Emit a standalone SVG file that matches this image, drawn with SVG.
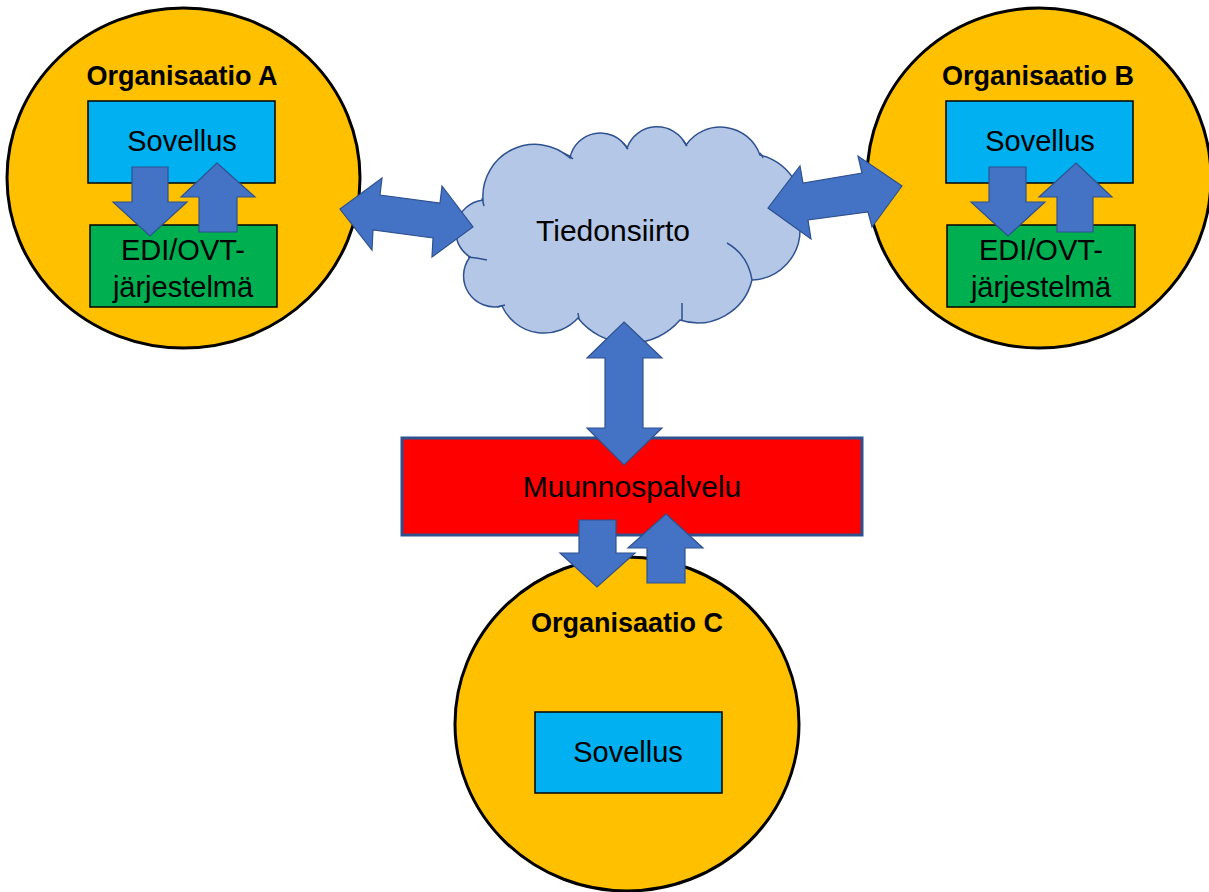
<svg xmlns="http://www.w3.org/2000/svg" width="1209" height="892" viewBox="0 0 1209 892">
<style>
.org{fill:#FFC000;stroke:#000;stroke-width:3}
.app{fill:#00B0F0;stroke:#000;stroke-width:1.5}
.edi{fill:#00B050;stroke:#000;stroke-width:1.5}
.arr{fill:#4472C4;stroke:#2F528F;stroke-width:1.2;stroke-linejoin:miter}
.t{font-family:"Liberation Sans",Arial,sans-serif;font-size:29px;fill:#000;text-anchor:middle}
.t30{font-size:30px}
.title{font-family:"Liberation Sans",Arial,sans-serif;font-size:27px;font-weight:bold;fill:#000;text-anchor:middle}
.cloud{fill:#B4C7E7;stroke:#2F528F;stroke-width:1.5}
.cl{fill:none;stroke:#2F528F;stroke-width:1.5}
</style>
<rect width="1209" height="892" fill="#fff"/>
<g id="orgA">
<ellipse class="org" cx="183.5" cy="178" rx="176.5" ry="170"/>
<text class="title" x="182" y="85">Organisaatio A</text>
<rect class="app" x="88" y="101" width="187" height="82"/>
<text class="t" x="182" y="151">Sovellus</text>
<rect class="edi" x="90" y="225" width="187" height="82"/>
<text class="t" x="183" y="260">EDI/OVT-</text>
<text class="t" x="183" y="297">järjestelmä</text>
<polygon class="arr" points="132,167 168,167 168,202 187,202 150,236 113,202 132,202"/>
<polygon class="arr" points="217,163 255,197 237,197 237,232 199,232 199,197 181,197"/>
</g>
<g id="orgB">
<ellipse class="org" cx="1039" cy="178" rx="172" ry="170"/>
<text class="title" x="1038" y="85">Organisaatio B</text>
<rect class="app" x="946" y="101" width="187" height="82"/>
<text class="t" x="1040" y="151">Sovellus</text>
<rect class="edi" x="947" y="225" width="188" height="82"/>
<text class="t" x="1041" y="260">EDI/OVT-</text>
<text class="t" x="1041" y="297">järjestelmä</text>
<polygon class="arr" points="989,167 1026,167 1026,202 1045,202 1008,236 971,202 989,202"/>
<polygon class="arr" points="1076,163 1112,197 1093,197 1093,232 1057,232 1057,197 1039,197"/>
</g>
<g id="cloud">
<path class="cloud" d="M483,200 A52,52 0 0 1 570,158 A31,31 0 0 1 627,148 A32,32 0 0 1 686,145 A42,42 0 0 1 760,155 A57,57 0 0 1 800,228 A50,50 0 0 1 752,280 A56,56 0 0 1 680,320 A66,66 0 0 1 578,318 A46,46 0 0 1 502,306 A31,31 0 0 1 470,257 A31,31 0 0 1 483,200 Z"/>
<path class="cl" d="M563,153 Q569,155 573,159 M623,143 Q626,146 628,149 M683,140 Q685,143 687,146 M760,153 Q762,155 763,158 M727,243 Q748,255 752,280 M682,303 L682,320 M578,313 L579,319 M505,305 L497,307 M468,257 Q478,258 487,260 M482,198 L484,206"/>
<text class="t t30" x="613" y="241">Tiedonsiirto</text>
</g>
<g id="muunnos">
<rect x="402" y="438" width="460" height="97" fill="#FF0000" stroke="#2F528F" stroke-width="3"/>
<text class="t t30" x="632" y="497">Muunnospalvelu</text>
</g>
<g id="orgC">
<ellipse class="org" cx="627" cy="724" rx="172" ry="167"/>
<text class="title" x="627" y="632">Organisaatio C</text>
<rect class="app" x="535" y="712" width="187" height="81"/>
<text class="t" x="628" y="762">Sovellus</text>
</g>
<g id="connectors">
<polygon class="arr" points="340,209 382,178 380,195 440,203 442,186 473,227 432,257 433,238 373,230 372,250"/>
<polygon class="arr" points="768,208 800,166 803,183 862,173 858,156 902,186 872,227 868,212 808,220 811,239"/>
<polygon class="arr" points="624,322 662,358 643,358 643,428 662,428 624,465 587,428 605,428 605,358 587,358"/>
<polygon class="arr" points="579,520 616,520 616,553 635,553 597,587 560,553 579,553"/>
<polygon class="arr" points="666,514 703,548 685,548 685,583 647,583 647,548 628,548"/>
</g>
</svg>
